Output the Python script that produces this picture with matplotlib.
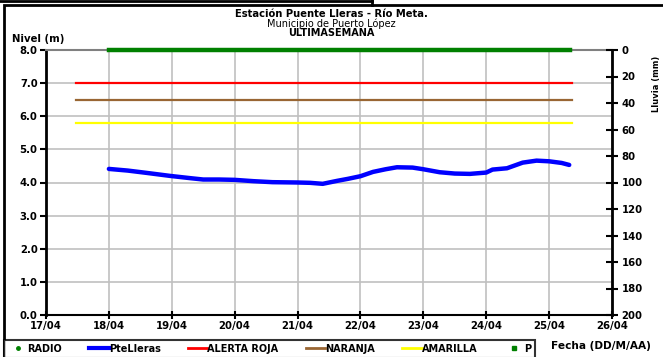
import matplotlib
matplotlib.use("Agg")
import matplotlib.pyplot as plt
from matplotlib.lines import Line2D
from matplotlib.patches import Rectangle

plt.rcParams['font.family'] = ['DejaVu Sans']

# ---- data ----
day_labels = ["17/04", "18/04", "19/04", "20/04", "21/04", "22/04", "23/04", "24/04", "25/04", "26/04"]
day_pos = [17, 18, 19, 20, 21, 22, 23, 24, 25, 26]

level_t = [18.0, 18.3, 18.6, 18.97, 19.3, 19.5, 19.75, 20.0, 20.3, 20.6, 21.0, 21.2, 21.4,
           21.63, 21.8, 22.0, 22.2, 22.4, 22.58, 22.83, 23.0, 23.26, 23.5, 23.74, 24.0,
           24.1, 24.33, 24.58, 24.8, 25.0, 25.2, 25.32]
level_m = [4.41, 4.36, 4.29, 4.20, 4.13, 4.09, 4.09, 4.08, 4.04, 4.01, 4.00, 3.99, 3.96,
           4.05, 4.11, 4.19, 4.32, 4.40, 4.46, 4.45, 4.40, 4.31, 4.27, 4.26, 4.30,
           4.39, 4.43, 4.60, 4.66, 4.64, 4.59, 4.53]

precip_t = [18.0, 19.0, 20.0, 21.0, 22.0, 23.0, 24.0, 25.0, 25.33]
precip_mm = [0, 0, 0, 0, 0, 0, 0, 0, 0]

thr_t = [17.48, 25.36]
alerta_roja = 7.0
naranja = 6.5
amarilla = 5.8

fig = plt.figure(figsize=(6.63, 3.57), dpi=100)
W, H = 663, 357
ax = fig.add_axes([46 / W, 1 - 315 / H, (612 - 46) / W, (315 - 50) / H])

FS = 7.3

ax.set_xlim(17, 26)
ax.set_ylim(0, 8)
ax.set_xticks(day_pos)
ax.set_xticklabels(day_labels)
ax.set_yticks([0, 1, 2, 3, 4, 5, 6, 7, 8])
ax.set_yticklabels([f"{v:.1f}" for v in range(9)])
ax.grid(True, color='#c0c0c0', lw=1.2)
ax.set_axisbelow(True)

for s in ['left', 'right']:
    ax.spines[s].set_color('black')
    ax.spines[s].set_linewidth(2)
ax.spines['top'].set_color('#808080')
ax.spines['top'].set_linewidth(1.5)
ax.spines['bottom'].set_color('black')
ax.spines['bottom'].set_linewidth(1.5)

ax.tick_params(axis='y', direction='out', length=4, width=1.5, labelsize=FS, pad=2)
ax.tick_params(axis='x', direction='inout', length=6, width=1.5, labelsize=FS, pad=1)
for lab in ax.get_xticklabels() + ax.get_yticklabels():
    lab.set_fontweight('bold')

ax.plot(thr_t, [alerta_roja] * 2, color='#ff0000', lw=1.6, zorder=3)
ax.plot(thr_t, [naranja] * 2, color='#996633', lw=1.6, zorder=3)
ax.plot(thr_t, [amarilla] * 2, color='#ffff00', lw=1.6, zorder=3)
ax.plot(level_t, level_m, color='#0000ff', lw=3.2, zorder=4, solid_capstyle='round')

ax2 = ax.twinx()
ax2.set_ylim(200, 0)
ax2.set_yticks(list(range(0, 201, 20)))
ax2.tick_params(axis='y', direction='inout', length=8, width=1.5, labelsize=FS, pad=3)
for lab in ax2.get_yticklabels():
    lab.set_fontweight('bold')
for s in ax2.spines.values():
    s.set_visible(False)
ax2.plot(precip_t, precip_mm, color='#008000', lw=3.2, zorder=5, clip_on=False)

# titles
fig.text(331 / W, 1 - 14 / H, "Estación Puente Lleras - Río Meta.", ha='center', va='center',
         fontsize=7.2, fontweight='bold')
fig.text(331 / W, 1 - 23.5 / H, "Municipio de Puerto López", ha='center', va='center', fontsize=7)
fig.text(331 / W, 1 - 33 / H, "ULTIMASEMANA", ha='center', va='center', fontsize=7, fontweight='bold')
fig.text(12 / W, 1 - 39 / H, "Nivel (m)", ha='left', va='center', fontsize=FS, fontweight='bold')
fig.text(551 / W, 1 - 346 / H, "Fecha (DD/M/AA)", ha='left', va='center', fontsize=7.6, fontweight='bold')
fig.text(656 / W, 1 - 84 / H, "Lluvia (mm)", ha='center', va='center', rotation=90,
         fontsize=6, fontweight='bold')

# legend
handles = [
    Line2D([], [], color='#008000', marker='o', markersize=2.5, lw=0),
    Line2D([], [], color='#0000ff', lw=3),
    Line2D([], [], color='#ff0000', lw=2),
    Line2D([], [], color='#996633', lw=2),
    Line2D([], [], color='#ffff00', lw=2),
    Line2D([], [], color='#008000', marker='s', markersize=2.5, lw=0),
]
labels = ["RADIO", "PteLleras", "ALERTA ROJA", "NARANJA", "AMARILLA", "P"]
leg = fig.legend(handles, labels, loc='upper left', bbox_to_anchor=(4 / W, 1 - 340 / H),
                 ncol=6, frameon=True, fancybox=False, edgecolor='black', borderaxespad=0,
                 handlelength=2.0, handletextpad=0.0, columnspacing=2.8, borderpad=0.4,
                 prop={'weight': 'bold', 'size': 7})
leg.get_frame().set_linewidth(1.5)

# outer frame (screenshot border)
fig.add_artist(Rectangle((4 / W, -0.1), 1.0, 1 - 5 / H + 0.1, transform=fig.transFigure,
                         fill=False, edgecolor='black', lw=2))
fig.add_artist(Line2D([0, 372 / W], [1 - 0.5 / H, 1 - 0.5 / H], transform=fig.transFigure,
                      color='black', lw=2))
fig.add_artist(Line2D([372 / W, 372 / W], [1, 1 - 5 / H], transform=fig.transFigure,
                      color='black', lw=2))

fig.savefig("out.png", dpi=100)
